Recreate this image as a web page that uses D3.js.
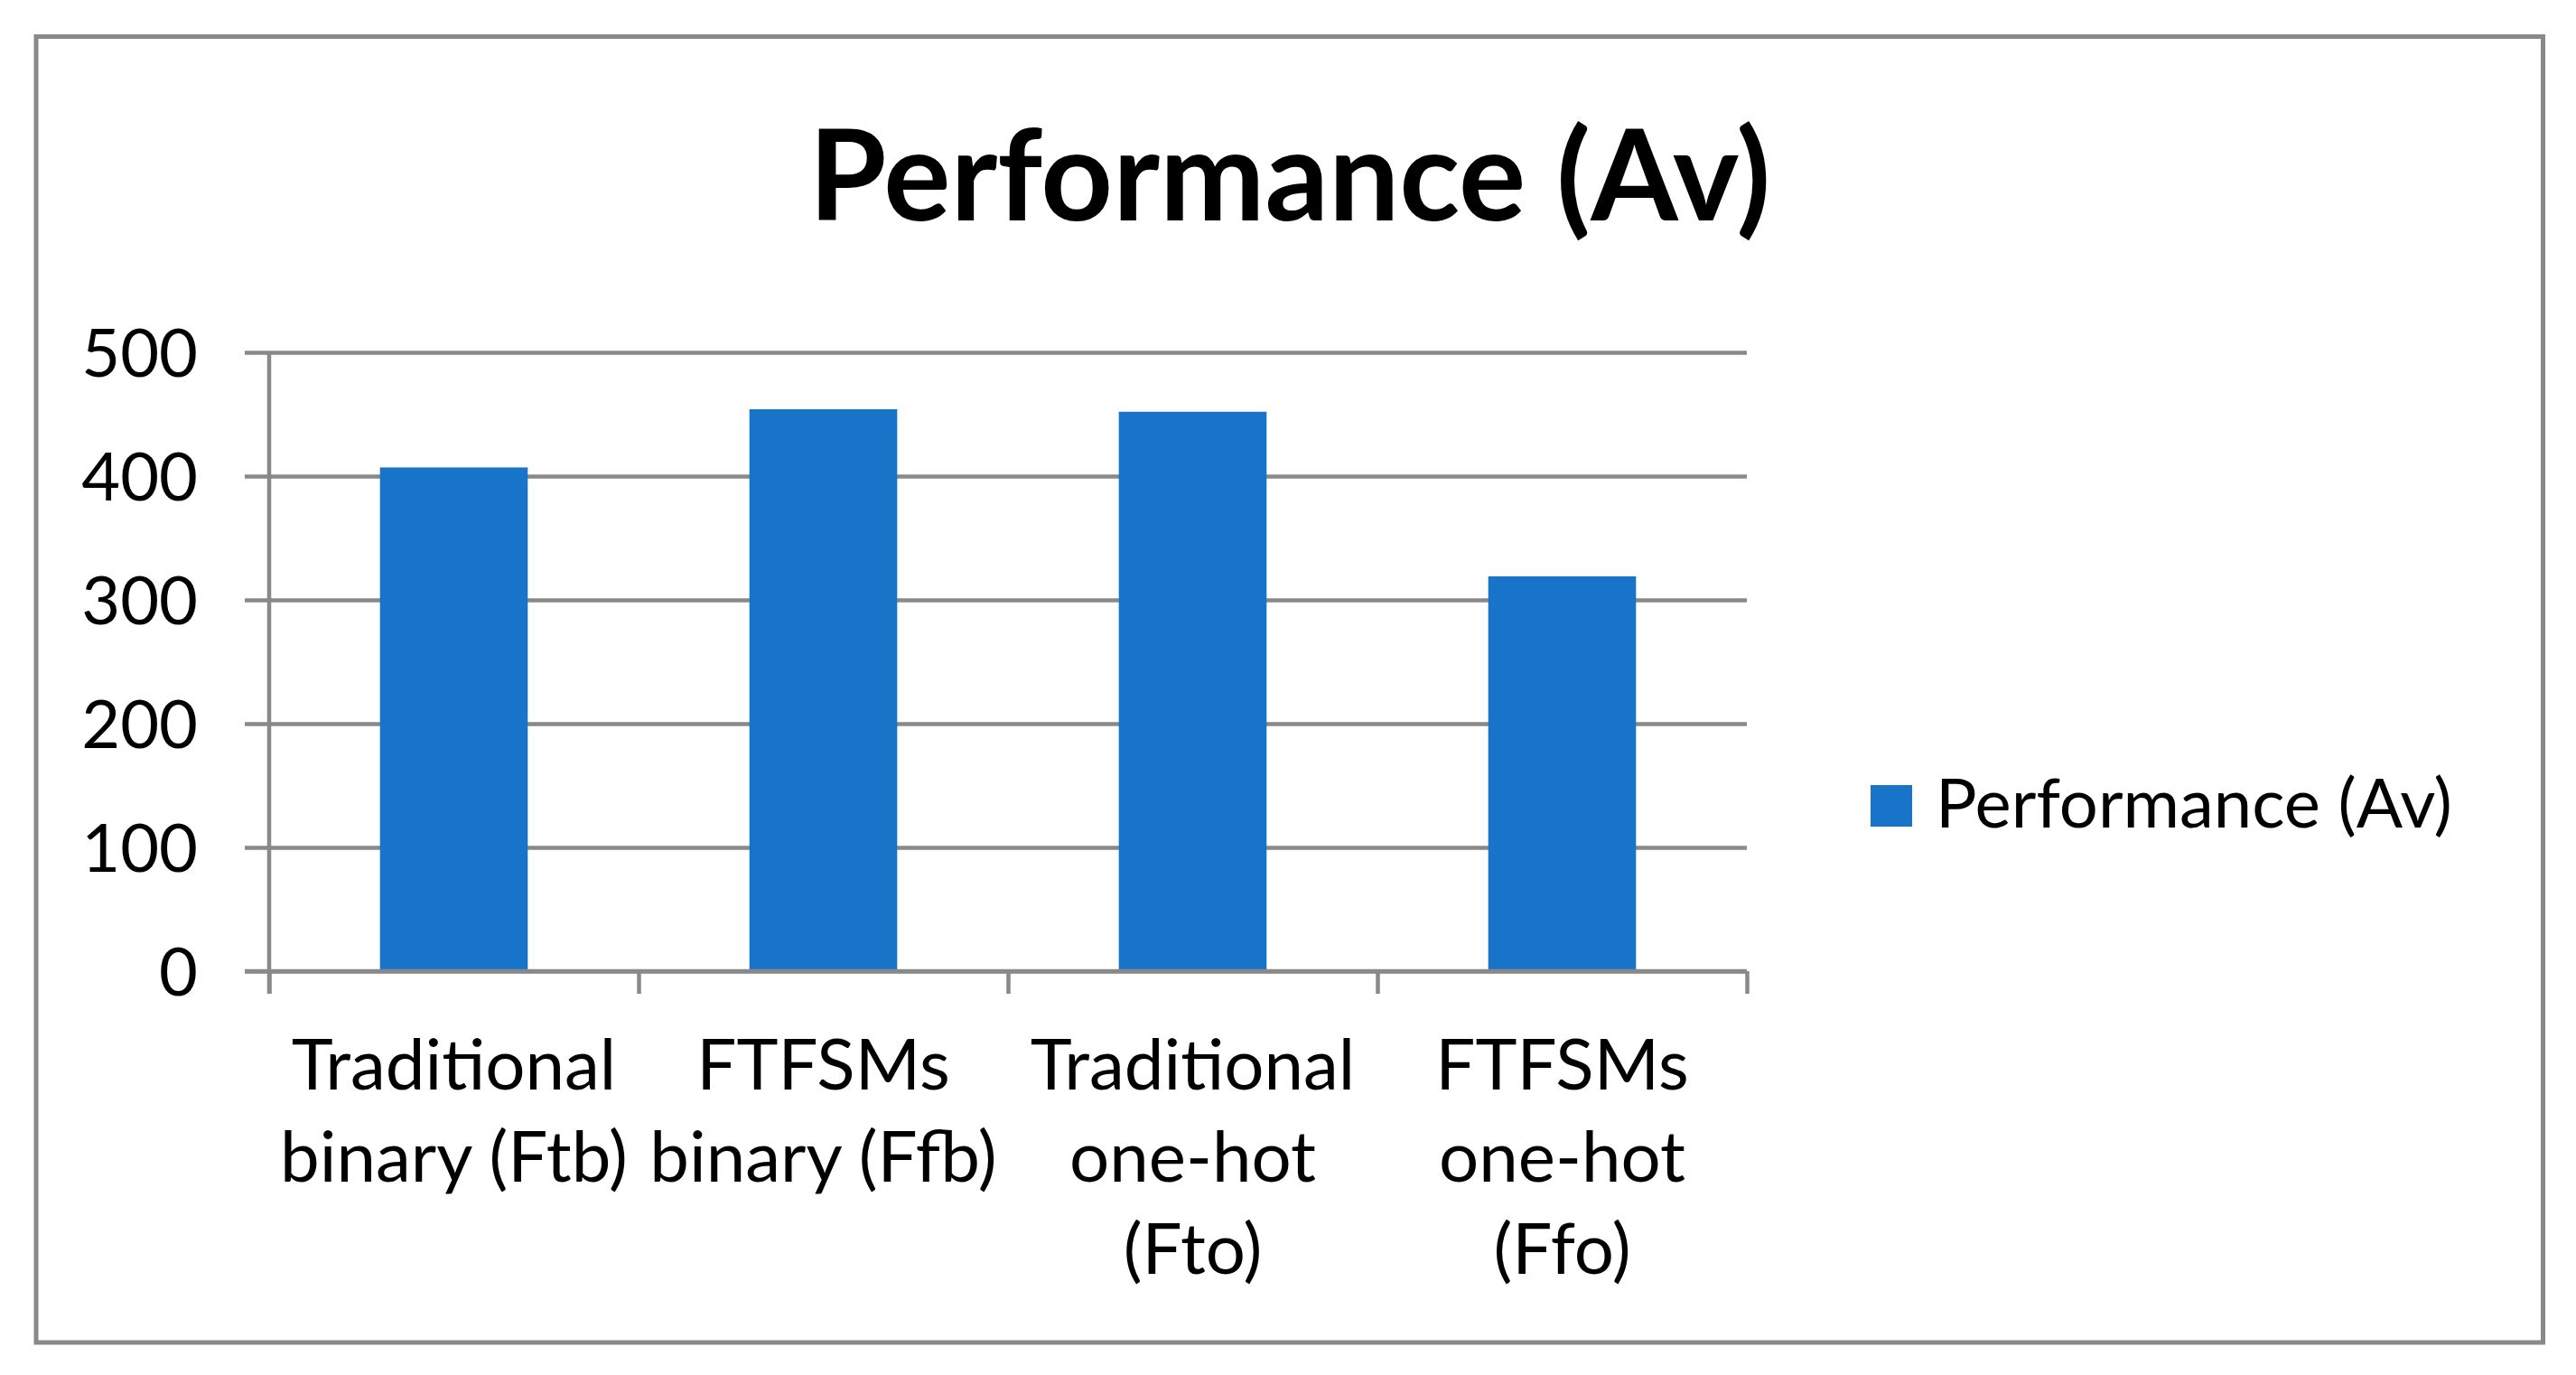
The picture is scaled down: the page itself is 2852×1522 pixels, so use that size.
<!DOCTYPE html>
<html>
<head>
<meta charset="utf-8">
<script src="https://cdnjs.cloudflare.com/ajax/libs/d3/7.8.5/d3.min.js"></script>
<style>
  body { margin: 0; background: #fff; }
  text { font-family: Lato, "Open Sans", sans-serif; fill: #000; }
</style>
</head>
<body>
<script>
var width = 2852;
var height = 1522;

// chart data
var categories = [
  ["Traditional", "binary (Ftb)"],
  ["FTFSMs", "binary (Ffb)"],
  ["Traditional", "one-hot", "(Fto)"],
  ["FTFSMs", "one-hot", "(Ffo)"]
];
var values = [407, 454, 452, 319];
var yTicks = [0, 100, 200, 300, 400, 500];
var seriesName = "Performance (Av)";
var title = "Performance (Av)";

var gray = "#898989";
var blue = "#1874c8";

var plot = {left: 298, right: 1934, top: 390, bottom: 1075};

var svg = d3.select("body")
            .append("svg")
            .attr("width", width)
            .attr("height", height);

// outer frame
svg.append("rect")
  .attr("x", 40).attr("y", 40.5)
  .attr("width", 2775.5).attr("height", 1445.5)
  .attr("fill", "none")
  .attr("stroke", gray)
  .attr("stroke-width", 5);

var x = d3.scaleBand()
  .domain(d3.range(categories.length))
  .range([plot.left, plot.right])
  .paddingInner(0.6)
  .paddingOuter(0.3);

var y = d3.scaleLinear()
  .domain([0, 500])
  .range([plot.bottom, plot.top]);

// gridlines + value labels
var yAxis = svg.append("g")
  .attr("transform", "translate(" + (plot.left - 27) + ",0)")
  .call(d3.axisLeft(y)
    .tickValues(yTicks)
    .tickSize(-(plot.right - plot.left + 27))
    .tickPadding(52));
yAxis.select(".domain").remove();
yAxis.selectAll(".tick line")
  .attr("stroke", gray)
  .attr("stroke-width", 4.5);
yAxis.selectAll(".tick text")
  .style("font-family", "Lato")
  .style("font-size", "74px")
  .attr("fill", "#000")
  .attr("dy", "0.36em");

// bars
svg.selectAll("rect.bar")
  .data(values)
  .enter()
  .append("rect")
  .attr("class", "bar")
  .attr("x", function(d, i) { return x(i); })
  .attr("y", function(d) { return y(d); })
  .attr("width", x.bandwidth())
  .attr("height", function(d) { return y(0) - y(d); })
  .attr("fill", blue);

// redraw the zero line over the bar bottoms
svg.append("line")
  .attr("x1", plot.left - 27).attr("x2", plot.right)
  .attr("y1", y(0)).attr("y2", y(0))
  .attr("stroke", gray).attr("stroke-width", 4.5);

// category tick marks at band boundaries
var edges = d3.scaleLinear()
  .domain([0, categories.length])
  .range([plot.left, plot.right]);
var xAxis = svg.append("g")
  .attr("transform", "translate(0," + y(0) + ")")
  .call(d3.axisBottom(edges)
    .tickValues(d3.range(categories.length + 1))
    .tickSize(25)
    .tickFormat(""));
xAxis.select(".domain").remove();
xAxis.selectAll(".tick line")
  .attr("stroke", gray)
  .attr("stroke-width", 4.5);

// vertical axis line
svg.append("line")
  .attr("x1", plot.left).attr("x2", plot.left)
  .attr("y1", plot.top).attr("y2", y(0) + 25)
  .attr("stroke", gray).attr("stroke-width", 4.5);

// category labels
var labels = svg.selectAll("text.cat")
  .data(categories)
  .enter()
  .append("text")
  .attr("class", "cat")
  .attr("text-anchor", "middle")
  .style("font-size", "78px")
  .attr("transform", function(d, i) {
    return "translate(" + (x(i) + x.bandwidth() / 2) + ",1206)";
  });
labels.selectAll("tspan")
  .data(function(d) { return d; })
  .enter()
  .append("tspan")
  .attr("x", 0)
  .attr("y", function(d, j) { return j * 102; })
  .text(function(d) { return d; });

// title
svg.append("text")
  .attr("x", 1428)
  .attr("y", 244)
  .attr("text-anchor", "middle")
  .style("font-size", "139px")
  .style("font-weight", "bold")
  .text(title);

// legend
svg.append("rect")
  .attr("x", 2071).attr("y", 869)
  .attr("width", 46).attr("height", 46)
  .attr("fill", blue);
svg.append("text")
  .attr("x", 2143)
  .attr("y", 915.5)
  .style("font-size", "76px")
  .text(seriesName);
</script>
</body>
</html>
